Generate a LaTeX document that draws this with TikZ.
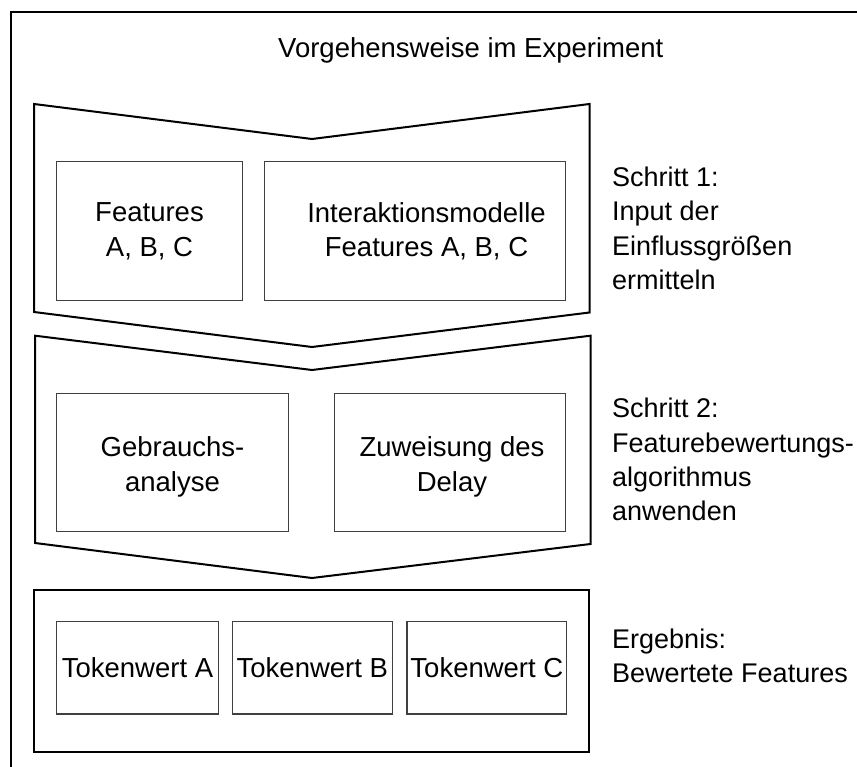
\documentclass[tikz,border=0pt]{standalone}
\usepackage{fontspec}
\setmainfont{Liberation Sans}
\newcommand{\txtfont}{\fontsize{27.5}{34.5}\selectfont}
\newcommand{\sidefont}{\fontsize{27}{34.3}\selectfont}
\begin{document}
\begin{tikzpicture}[x=1pt,y=-1pt,
  chev/.style={draw=black, line width=2pt, line join=miter},
  frame/.style={draw=black, line width=2pt, inner sep=0pt},
  box/.style={draw=black!75, line width=1.3pt, inner sep=0pt},
  lbl/.style={align=center, font=\txtfont, inner sep=0pt},
  side/.style={align=left, anchor=west, font=\sidefont, inner sep=0pt}]
\useasboundingbox (0,0) rectangle (857,767);

% outer frame (only its left and top edges lie inside the page)
\draw[line width=1.5pt] (11,770) -- (11,12) -- (860,12);

% title
\node[font=\txtfont, inner sep=0pt, anchor=base west] (title) at (278,57.7) {Vorgehensweise im Experiment};

% step 1 chevron
\draw[chev] (34,104) -- (312,139) -- (589.5,104) -- (589.5,312.5) -- (312,347) -- (34,312) -- cycle;
\node[box, minimum width=185.6pt, minimum height=139pt] (feat) at (149.5,231.2) {};
\node[lbl] (featT) at (feat.center) {Features\\A, B, C};
\node[box, minimum width=301.4pt, minimum height=139pt] (inter) at (415,231.2) {};
\node[lbl] (interT) at (426.5,231.2) {Interaktionsmodelle\\Features A, B, C};
\node[side] (s1) at (612,228.3) {Schritt 1:\\Input der\\Einflussgrößen\\ermitteln};

% step 2 chevron
\draw[chev] (35,335.7) -- (312,370) -- (590.5,335.7) -- (590.5,544) -- (312,578) -- (35,543) -- cycle;
\node[box, minimum width=231.6pt, minimum height=138.4pt] (gebr) at (172.5,462.5) {};
\node[lbl] (gebrT) at (172.5,467) {Gebrauchs-\\analyse};
\node[box, minimum width=231.4pt, minimum height=138.4pt] (zuw) at (450,462.5) {};
\node[lbl] (zuwT) at (452,467) {Zuweisung des\\Delay};
\node[side] (s2) at (612,459.6) {Schritt 2:\\Featurebewertungs-\\algorithmus\\anwenden};

% result
\node[frame, minimum width=555.5pt, minimum height=161.7pt] (res) at (311.25,670.85) {};
\node[box, minimum width=161.6pt, minimum height=92.3pt] (tokA) at (137.5,667.85) {};
\node[box, minimum width=160pt, minimum height=92.3pt] (tokB) at (312.3,667.85) {};
\node[box, minimum width=159.7pt, minimum height=92.3pt] (tokC) at (486.85,667.85) {};
\node[lbl] (tokAT) at (tokA.center) {Tokenwert A};
\node[lbl] (tokBT) at (tokB.center) {Tokenwert B};
\node[lbl] (tokCT) at (tokC.center) {Tokenwert C};
\node[side] (s3) at (612,655.5) {Ergebnis:\\Bewertete Features};
\end{tikzpicture}
\end{document}
